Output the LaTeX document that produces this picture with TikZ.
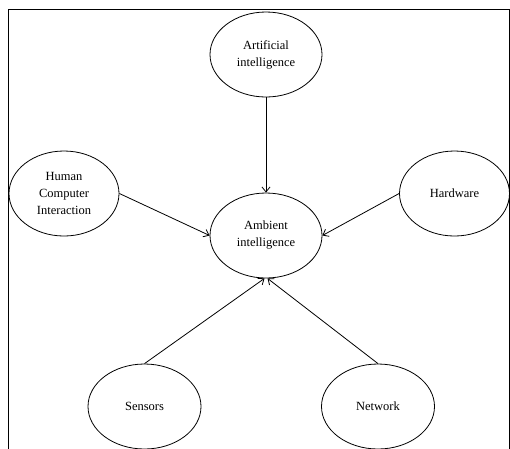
\documentclass[tikz,border=0pt]{standalone}
\usepackage{fontspec}
\setmainfont{Liberation Serif}
\usetikzlibrary{shapes.geometric,arrows.meta}
\begin{document}
\begin{tikzpicture}[x=1pt,y=-1pt,
  bubble/.style={draw, ellipse, line width=0.8pt, minimum width=112pt, minimum height=85pt, inner sep=0pt, align=center,
    font=\fontsize{12.5}{17}\selectfont},
  link/.style={line width=0.8pt, -{Straight Barb[length=5pt,width=8pt]}}]
\useasboundingbox (0,0) rectangle (510,448);
\fill[white] (0,0) rectangle (510,448);
\draw[line width=0.9pt] (8,470) -- (8,9) -- (509.5,9) -- (509.5,470);
\node[bubble] (ai) at (266,54.5) {Artificial\\intelligence};
\node[bubble] (amb) at (266,235.5) {Ambient\\intelligence};
\node[bubble, minimum width=110pt] (hci) at (64,193.5) {Human\\Computer\\Interaction};
\node[bubble, minimum width=110pt] (hw) at (454.5,193.5) {Hardware};
\node[bubble, minimum width=113pt] (sen) at (144.5,406.5) {Sensors};
\node[bubble, minimum width=113pt] (net) at (378,406.5) {Network};
\draw[link] (ai.south) -- (amb.north);
\draw[link] (hci.east) -- (amb.west);
\draw[link] (hw.west) -- (amb.east);
\draw[link] (sen.north) -- (amb.268);
\draw[link] (net.north) -- (amb.272);
\end{tikzpicture}
\end{document}
